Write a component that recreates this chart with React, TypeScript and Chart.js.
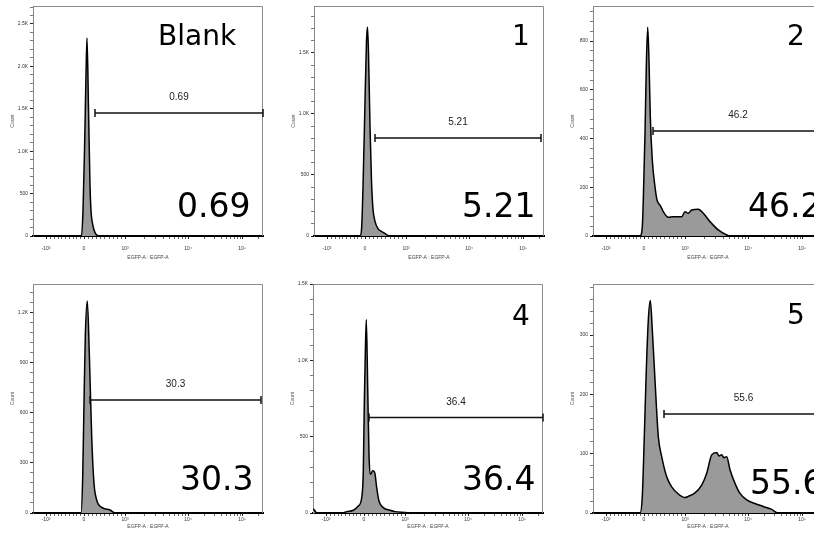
import React, { useEffect, useRef } from "react";
import { Chart, registerables } from "chart.js";
Chart.register(...registerables);

// ---- X axis (display channel across each plot, 0..230) ----
const xChannelMax = 230;
const xTickChannels = [13, 51, 92, 155, 209];
const xTickLabels = ["-10³", "0", "10³", "10⁴", "10⁵"];
const xMinorChannels = [17, 21, 25, 28, 32, 36, 40, 43, 47, 55, 59, 63, 67, 71, 76, 80, 84, 88, 111, 122, 130, 136, 141, 145, 149, 152, 171, 181, 188, 193, 197, 201, 204, 207, 225];

// ---- Histogram data (channel, count) ----
const chBlank = [0, 47, 48.5, 50, 51.5, 53, 54, 55.5, 57, 58, 60, 62, 64, 66, 230];
const cntBlank = [0, 0, 0, 300, 1000, 1900, 2335, 1500, 600, 300, 120, 40, 10, 0, 0];

const ch1 = [0, 46, 47.5, 49, 51, 52.5, 53.5, 54.5, 56, 57.5, 59, 61, 64, 67, 70, 73, 75, 230];
const cnt1 = [0, 0, 50, 400, 1100, 1600, 1713, 1500, 900, 450, 220, 120, 60, 40, 25, 10, 0, 0];

const ch2 = [0, 47, 49.3, 50.3, 52, 53.3, 54.7, 56, 57.3, 59.3, 62, 64, 66, 67, 70.3, 75.3, 80.3, 88.7, 92, 95.3, 98.7, 105.3, 110.3, 117, 125.3, 133.7, 137, 230];
const cnt2 = [0, 0, 38, 148, 421, 695, 857, 722, 490, 312, 202, 148, 131, 127, 100, 77, 79, 79, 100, 93, 107, 110, 93, 59, 25, 4, 0, 0];

const ch3 = [0, 47, 48, 49.7, 51, 52.3, 54.3, 56.3, 58.7, 61, 63.7, 68.7, 77, 82, 230];
const cnt3 = [0, 0, 0, 217, 656, 1054, 1267, 955, 456, 177, 78, 34, 18, 0, 0];

const ch4 = [0, 1, 2.5, 4, 30, 33.7, 40.3, 45.3, 48.7, 50.3, 51.3, 52.3, 53.3, 54.7, 56, 57.7, 59.7, 61.7, 63.7, 66, 70.3, 77, 82, 92, 100, 230];
const cnt4 = [26, 22, 8, 0, 0, 9, 18, 46, 100, 276, 715, 1044, 1268, 824, 386, 254, 276, 265, 166, 79, 35, 18, 9, 4, 0, 0];

const ch5 = [0, 47, 49.3, 51.3, 53.3, 55.3, 57.3, 59.3, 62, 65.3, 68.7, 73.7, 78.7, 85.3, 92, 95.3, 102, 108.7, 113.7, 118.7, 123.7, 126, 128.7, 131, 133.7, 137, 142, 147, 153.7, 162, 170.3, 178.7, 185, 230];
const cnt5 = [0, 0, 28, 129, 241, 325, 358, 309, 224, 129, 95, 61, 44, 32, 26, 28, 34, 47, 67, 98, 102, 96, 98, 93, 95, 73, 50, 33, 22, 16, 11, 6, 0, 0];

const channels = [chBlank, ch1, ch2, ch3, ch4, ch5];
const counts = [cntBlank, cnt1, cnt2, cnt3, cnt4, cnt5];

// ---- Y axes ----
const yMaxes = [2712, 1885, 944, 1369, 1500, 386];
const yMajorSteps = [500, 500, 200, 300, 500, 100];
const yMinorSteps = [100, 100, 40, 60, 100, 20];

// ---- Gates ----
const gateStarts = [62, 61, 60, 57, 56, 71];
const gateEnds = [230, 227, 230, 228, 230, 230];
const gateLevels = [1450, 803, 431, 675, 625, 167];
const gatePercents = ["0.69", "5.21", "46.2", "30.3", "36.4", "55.6"];
const sampleNames = ["Blank", "1", "2", "", "4", "5"];

// ---- Layout (pixels) ----
const panelLayouts = [
  { left: 0, top: 0, h: 270, xAxisH: 34, tickPad: 7, titlePad: 9, nameX: 125, nameY: 39, numX: 144, numY: 211 },
  { left: 281, top: 0, h: 270, xAxisH: 34, tickPad: 7, titlePad: 9, nameX: 198, nameY: 39, numX: 148, numY: 211 },
  { left: 560, top: 0, h: 270, xAxisH: 34, tickPad: 7, titlePad: 9, nameX: 194, nameY: 39, numX: 155, numY: 211 },
  { left: 0, top: 278, h: 263, xAxisH: 28, tickPad: 1, titlePad: 11, nameX: 0, nameY: 0, numX: 147, numY: 206 },
  { left: 280, top: 278, h: 263, xAxisH: 28, tickPad: 1, titlePad: 11, nameX: 199, nameY: 41, numX: 149, numY: 206 },
  { left: 560, top: 278, h: 263, xAxisH: 28, tickPad: 1, titlePad: 11, nameX: 194, nameY: 40, numX: 157, numY: 210 },
];

const smallFont = "Liberation Sans";
const bigFont = "DejaVu Sans";

function fmtCount(v: number): string {
  if (v >= 1000) return (v / 1000).toFixed(1) + "K";
  return String(v);
}

function Histogram({ idx }: { idx: number }) {
  const ref = useRef<HTMLCanvasElement>(null);
  const lay = panelLayouts[idx];
  useEffect(() => {
    const xs = channels[idx];
    const ys = counts[idx];
    const yMax = yMaxes[idx];
    const major = yMajorSteps[idx];
    const minor = yMinorSteps[idx];

    const decoPlugin = {
      id: "deco" + idx,
      afterDatasetsDraw(chart: any) {
        const { ctx, chartArea } = chart;
        const xs_ = chart.scales.x;
        const ys_ = chart.scales.y;
        ctx.save();
        // frame top/right
        ctx.strokeStyle = "#8a8a8a";
        ctx.lineWidth = 1;
        ctx.beginPath();
        ctx.moveTo(chartArea.left, chartArea.top + 0.5);
        ctx.lineTo(chartArea.right - 0.5, chartArea.top + 0.5);
        ctx.lineTo(chartArea.right - 0.5, chartArea.bottom);
        ctx.stroke();
        // gate
        const gx1 = xs_.getPixelForValue(gateStarts[idx]);
        const gx2 = xs_.getPixelForValue(gateEnds[idx]);
        const gy = ys_.getPixelForValue(gateLevels[idx]);
        ctx.strokeStyle = "#111";
        ctx.lineWidth = 1.5;
        ctx.beginPath();
        ctx.moveTo(gx1, gy);
        ctx.lineTo(gx2, gy);
        ctx.moveTo(gx1, gy - 4);
        ctx.lineTo(gx1, gy + 4);
        ctx.moveTo(gx2, gy - 4);
        ctx.lineTo(gx2, gy + 4);
        ctx.stroke();
        ctx.fillStyle = "#222";
        ctx.font = `10px "${smallFont}"`;
        ctx.textAlign = "center";
        ctx.textBaseline = "alphabetic";
        ctx.fillText(gatePercents[idx], (gx1 + gx2) / 2, gy - 13);
        // big labels
        ctx.fillStyle = "#000";
        ctx.textAlign = "left";
        if (sampleNames[idx]) {
          ctx.font = `28px "${bigFont}"`;
          ctx.fillText(sampleNames[idx], chartArea.left + lay.nameX, chartArea.top + lay.nameY);
        }
        ctx.font = `33px "${bigFont}"`;
        ctx.fillText(gatePercents[idx], chartArea.left + lay.numX, chartArea.top + lay.numY);
        ctx.restore();
      },
    };

    const chart = new Chart(ref.current as HTMLCanvasElement, {
      type: "line",
      data: {
        datasets: [
          {
            data: xs.map((x, i) => ({ x, y: ys[i] })),
            borderColor: "#000",
            borderWidth: 1.5,
            backgroundColor: "#9a9a9a",
            fill: "origin",
            pointRadius: 0,
            cubicInterpolationMode: "monotone",
          },
        ],
      },
      options: {
        animation: false,
        responsive: false,
        devicePixelRatio: 1,
        layout: { padding: { left: 0, top: 6, right: 17, bottom: 0 } },
        plugins: { legend: { display: false }, tooltip: { enabled: false } },
        scales: {
          x: {
            type: "linear",
            min: 0,
            max: xChannelMax,
            afterFit: (s: any) => {
              s.height = lay.xAxisH;
            },
            afterBuildTicks: (s: any) => {
              const all = [...xTickChannels, ...xMinorChannels].sort((a, b) => a - b);
              s.ticks = all.map((v) => ({ value: v, major: xTickChannels.includes(v) }));
            },
            ticks: {
              autoSkip: false,
              maxRotation: 0,
              padding: lay.tickPad,
              color: "#333",
              font: { family: smallFont, size: 5 },
              callback: (v: any) => {
                const i = xTickChannels.indexOf(Number(v));
                return i >= 0 ? xTickLabels[i] : "";
              },
            },
            grid: {
              drawOnChartArea: false,
              tickLength: 3,
              tickColor: (c: any) => (c.tick && xTickChannels.includes(c.tick.value) ? "#222" : "#666"),
              tickWidth: 1,
            },
            border: { color: "#000", width: 2 },
            title: {
              display: true,
              text: "EGFP-A : EGFP-A",
              color: "#444",
              font: { family: smallFont, size: 5 },
              padding: { top: 0, bottom: lay.titlePad },
            },
          },
          y: {
            type: "linear",
            min: 0,
            max: yMax,
            afterFit: (s: any) => {
              s.width = 33;
            },
            afterBuildTicks: (s: any) => {
              const t: any[] = [];
              for (let v = 0; v <= yMax + 1e-6; v += minor) {
                const r = Math.round(v);
                t.push({ value: r, major: r % major === 0 });
              }
              s.ticks = t;
            },
            ticks: {
              autoSkip: false,
              padding: 2,
              color: "#333",
              font: { family: smallFont, size: 5 },
              callback: (v: any) => (Number(v) % major === 0 ? fmtCount(Number(v)) : ""),
            },
            grid: {
              drawOnChartArea: false,
              tickLength: 3,
              tickColor: (c: any) => (c.tick && c.tick.value % major === 0 ? "#222" : "#777"),
              tickWidth: 1,
            },
            border: { color: "#8a8a8a", width: 1 },
            title: {
              display: true,
              text: "Count",
              color: "#555",
              font: { family: smallFont, size: 5 },
              padding: { top: 10, bottom: 0 },
            },
          },
        },
      },
      plugins: [decoPlugin],
    } as any);
    return () => chart.destroy();
  }, [idx]);

  return (
    <canvas
      ref={ref}
      width={280}
      height={lay.h}
      style={{ position: "absolute", left: lay.left, top: lay.top, width: 280, height: lay.h, display: "block" }}
    />
  );
}

export default function App() {
  return (
    <div
      style={{
        position: "absolute",
        left: 0,
        top: 0,
        width: 814,
        height: 541,
        overflow: "hidden",
        background: "#fff",
      }}
    >
      {panelLayouts.map((_, i) => (
        <Histogram key={i} idx={i} />
      ))}
    </div>
  );
}
